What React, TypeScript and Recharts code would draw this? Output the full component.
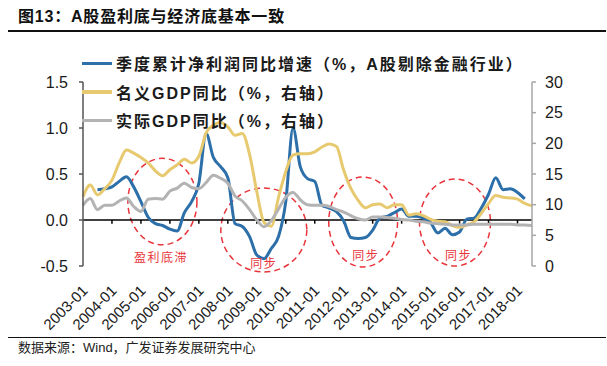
import React from "react";
import {
  LineChart,
  Line,
  XAxis,
  YAxis,
  Legend,
  ReferenceLine,
  ReferenceArea,
  ReferenceDot,
} from "recharts";

// quarterly sampling, 2003-01 .. 2018-07
const years = [
  "2003", "2004", "2005", "2006", "2007", "2008", "2009", "2010",
  "2011", "2012", "2013", "2014", "2015", "2016", "2017", "2018",
];
const quarterMonths = ["01", "04", "07", "10"];
const periods = years.flatMap((y) => quarterMonths.map((m) => `${y}-${m}`)).slice(0, 63);

// 季度累计净利润同比增速 (left axis)
const profitGrowth = [
  null, null, 0.33, 0.34,
  0.36, 0.42, 0.47, 0.36,
  0.2, 0.03, -0.04, -0.06,
  -0.1, -0.12, 0.08, 0.2,
  0.4, 0.94, 0.68, 0.58,
  0.46, -0.04, -0.07, -0.18,
  -0.38, -0.42, -0.31, -0.18,
  0.2, 1.0, 0.58, 0.45,
  0.42, 0.16, 0.13, 0.09,
  -0.01, -0.19, -0.2, -0.19,
  -0.11, 0.02, 0.04, 0.08,
  0.12, 0.04, 0.04, 0.02,
  -0.03, -0.14, -0.09, -0.16,
  -0.13, 0.01, 0.02, 0.13,
  0.28, 0.46, 0.33, 0.34,
  0.3, 0.23, null,
];

// 名义GDP同比 (right axis)
const nominalGdp = [
  11.3, 13.2, 11.6, 12.6,
  14.0, 16.8, 18.9, 18.4,
  17.7, 16.8, 15.5, 14.7,
  15.7, 16.5, 17.4, 16.8,
  17.9, 21.7, 23.0, 23.4,
  22.7, 21.3, 21.6, 18.2,
  12.1, 7.1, 6.5, 11.2,
  15.4, 18.1, 18.3, 18.3,
  18.6, 19.4, 19.9, 19.5,
  15.6, 12.6, 10.7, 9.5,
  10.0, 10.1, 9.5, 10.0,
  10.0, 8.3, 8.5, 8.2,
  7.6, 7.3, 7.2, 6.6,
  6.3, 6.7, 7.2, 8.6,
  10.2, 11.5, 11.2, 11.1,
  10.9, 10.2, 9.8,
];

// 实际GDP同比 (right axis)
const realGdp = [
  9.9, 11.0, 9.2, 9.9,
  9.9, 10.6, 11.1, 9.7,
  8.9, 10.9, 11.0, 10.9,
  12.2, 12.7, 13.5, 12.8,
  12.6, 13.6, 14.8, 14.3,
  13.5, 11.4, 10.6, 9.2,
  7.5, 6.4, 7.4, 9.3,
  11.2, 12.0, 10.8, 10.0,
  9.9, 9.9, 9.7, 9.2,
  8.8, 8.2, 7.7, 7.5,
  8.0, 8.0, 7.9, 7.8,
  7.6, 7.5, 7.3, 7.2,
  7.0, 6.9, 6.8, 6.7,
  6.7, 6.7, 6.8, 6.8,
  6.8, 6.8, 6.8, 6.8,
  6.7, 6.7, 6.6,
];

const seriesNames = [
  "季度累计净利润同比增速（%，A股剔除金融行业）",
  "名义GDP同比（%，右轴）",
  "实际GDP同比（%，右轴）",
];
const seriesColors = ["#2C6FA9", "#E7C96F", "#B3B3B3"];

const leftTicks = [-0.5, 0, 0.5, 1.0, 1.5];
const rightTicks = [0, 5, 10, 15, 20, 25, 30];

// red dashed ellipses (x in months since 2003-01, y on left axis)
const circles = [
  { x1: 18.6, x2: 47.2, y1: -0.27, y2: 0.67 },
  { x1: 57.1, x2: 92.7, y1: -0.565, y2: 0.348 },
  { x1: 101.8, x2: 130.3, y1: -0.51, y2: 0.467 },
  { x1: 139.4, x2: 168.8, y1: -0.5, y2: 0.446 },
];
const notes = [
  { x: 32.3, y: -0.4, text: "盈利底滞" },
  { x: 74.9, y: -0.457, text: "同步" },
  { x: 117.1, y: -0.37, text: "同步" },
  { x: 155.6, y: -0.37, text: "同步" },
];

const data = periods.map((p, i) => ({
  t: i * 3,
  period: p,
  profit: profitGrowth[i],
  nominal: nominalGdp[i],
  real: realGdp[i],
}));
const yearTicks = years.slice(0, 16).map((_, i) => i * 12);

const latin = "'Liberation Sans', Arial, 'Noto Sans CJK SC', sans-serif";

const DateTick = ({ x, y, payload }: any) => (
  <g transform={`translate(${x + 2},${y + 20})`}>
    <text
      transform="rotate(-45)"
      textAnchor="end"
      dy="0.35em"
      fontSize={15}
      fontFamily={latin}
      fill="#1a1a1a"
    >
      {periods[payload.value / 3]}
    </text>
  </g>
);

const LegendBox = () => (
  <div style={{ fontFamily: latin }}>
    {seriesNames.map((name, i) => (
      <div key={name} style={{ display: "flex", alignItems: "center", height: 28.5 }}>
        <div style={{ width: 30, height: 3.5, background: seriesColors[i], marginRight: 4 }} />
        <span style={{ fontSize: 16, fontWeight: 700, letterSpacing: 2, color: "#1a1a1a", whiteSpace: "nowrap" }}>
          {name}
        </span>
      </div>
    ))}
  </div>
);

export default function App() {
  return (
    <div style={{ position: "absolute", left: 0, top: 0, width: 607, height: 366, background: "#fff" }}>
      <div
        style={{
          position: "absolute",
          left: 18,
          top: 6,
          fontFamily: latin,
          fontWeight: 700,
          fontSize: 16,
          letterSpacing: 0.8,
          lineHeight: "22px",
          color: "#111",
        }}
      >
        图13：A股盈利底与经济底基本一致
      </div>
      <div style={{ position: "absolute", left: 8, top: 30, width: 598, height: 1.5, background: "#111" }} />

      <LineChart
        width={607}
        height={366}
        data={data}
        margin={{ top: 82, right: 35, bottom: 0, left: 33 }}
      >
        <XAxis
          dataKey="t"
          type="number"
          domain={[0, 186]}
          ticks={yearTicks}
          interval={0}
          axisLine={false}
          tickLine={false}
          tickSize={0}
          height={100}
          tick={<DateTick />}
        />
        <YAxis
          yAxisId="left"
          domain={[-0.5, 1.5]}
          ticks={leftTicks}
          width={50}
          tickSize={4}
          tickMargin={11}
          axisLine={{ stroke: "#555", strokeWidth: 1.5 }}
          tickLine={{ stroke: "#555", strokeWidth: 1.5 }}
          tick={{ fontSize: 16, fill: "#1a1a1a", fontFamily: latin }}
          tickFormatter={(v: number) => v.toFixed(1)}
        />
        <YAxis
          yAxisId="right"
          orientation="right"
          domain={[0, 30]}
          ticks={rightTicks}
          width={40}
          tickSize={4}
          tickMargin={9}
          axisLine={{ stroke: "#A6A6A6", strokeWidth: 1.5 }}
          tickLine={{ stroke: "#A6A6A6", strokeWidth: 1.5 }}
          tick={{ fontSize: 16, fill: "#1a1a1a", fontFamily: latin }}
        />
        <Legend
          layout="vertical"
          align="center"
          verticalAlign="middle"
          wrapperStyle={{ left: 82, top: 49, width: 480 }}
          content={() => <LegendBox />}
        />
        <ReferenceLine yAxisId="left" y={0} stroke="#000" strokeWidth={1.5} />
        {yearTicks.slice(1).map((t) => (
          <ReferenceLine
            key={t}
            yAxisId="left"
            segment={[
              { x: t, y: 0 },
              { x: t, y: -0.04 },
            ]}
            stroke="#000"
            strokeWidth={1.5}
          />
        ))}
        <Line
          yAxisId="left"
          type="monotone"
          dataKey="profit"
          stroke={seriesColors[0]}
          strokeWidth={3}
          dot={false}
          isAnimationActive={false}
        />
        <Line
          yAxisId="right"
          type="monotone"
          dataKey="nominal"
          stroke={seriesColors[1]}
          strokeWidth={3}
          dot={false}
          isAnimationActive={false}
        />
        <Line
          yAxisId="right"
          type="monotone"
          dataKey="real"
          stroke={seriesColors[2]}
          strokeWidth={3}
          dot={false}
          isAnimationActive={false}
        />
        {circles.map((c, i) => (
          <ReferenceArea
            key={"c" + i}
            yAxisId="left"
            x1={c.x1}
            x2={c.x2}
            y1={c.y1}
            y2={c.y2}
            ifOverflow="visible"
            shape={(p: any) => (
              <ellipse
                cx={p.x + p.width / 2}
                cy={p.y + p.height / 2}
                rx={Math.abs(p.width) / 2}
                ry={Math.abs(p.height) / 2}
                fill="none"
                stroke="#E8343A"
                strokeWidth={1.5}
                strokeDasharray="6 4"
              />
            )}
          />
        ))}
        {notes.map((n, i) => (
          <ReferenceDot
            key={"n" + i}
            yAxisId="left"
            x={n.x}
            y={n.y}
            ifOverflow="visible"
            shape={(p: any) => (
              <text
                x={p.cx}
                y={p.cy}
                textAnchor="middle"
                dominantBaseline="central"
                fontSize={12}
                letterSpacing={1.5}
                fill="#E8343A"
                fontFamily="'Noto Sans CJK SC', sans-serif"
              >
                {n.text}
              </text>
            )}
          />
        ))}
      </LineChart>

      <div style={{ position: "absolute", left: 8, top: 337, width: 598, height: 1, background: "#111" }} />
      <div
        style={{
          position: "absolute",
          left: 18,
          top: 339,
          fontFamily: latin,
          fontSize: 13,
          lineHeight: "18px",
          color: "#222",
        }}
      >
        数据来源：Wind，广发证券发展研究中心
      </div>
    </div>
  );
}
